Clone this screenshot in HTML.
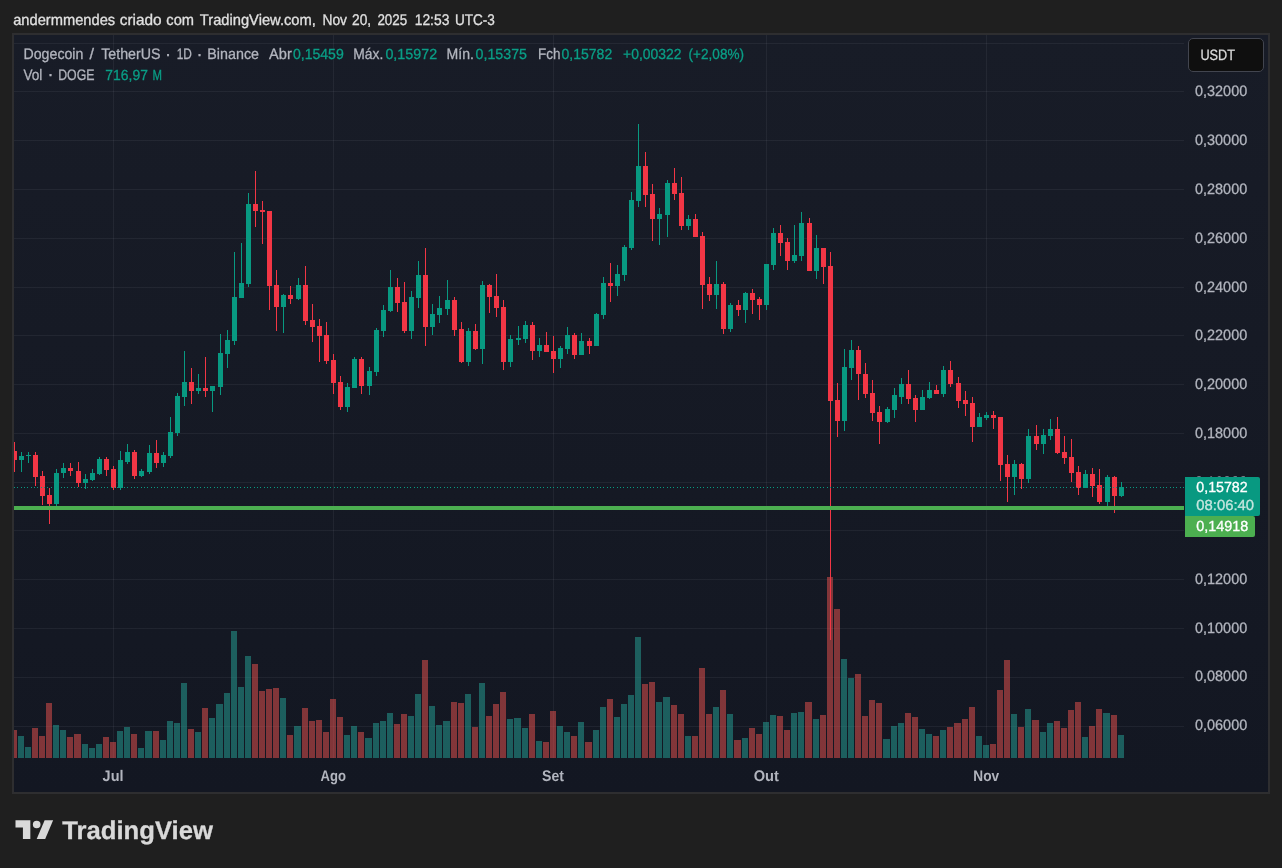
<!DOCTYPE html>
<html lang="pt"><head><meta charset="utf-8"><title>DOGEUSDT</title>
<style>
html,body{margin:0;padding:0;background:#1f1f1f;}
body{width:1282px;height:868px;position:relative;overflow:hidden;font-family:'Liberation Sans',sans-serif;}
svg text{white-space:pre;}
</style></head><body>
<svg width="1282" height="868" viewBox="0 0 1282 868" style="position:absolute;left:0;top:0">
<defs>
<linearGradient id="bgp" x1="0" y1="0" x2="0" y2="1"><stop offset="0" stop-color="#181c27"/><stop offset="1" stop-color="#131722"/></linearGradient>
<clipPath id="pane"><rect x="14" y="35" width="1170" height="723"/></clipPath>
</defs>
<rect x="12" y="33" width="1258" height="761" fill="#2e2e30"/>
<rect x="14" y="35" width="1254" height="757" fill="url(#bgp)"/>
<g shape-rendering="crispEdges" fill="rgba(240,243,250,0.06)">
<rect x="14" y="43" width="1170" height="1"/>
<rect x="14" y="91" width="1170" height="1"/>
<rect x="14" y="140" width="1170" height="1"/>
<rect x="14" y="189" width="1170" height="1"/>
<rect x="14" y="238" width="1170" height="1"/>
<rect x="14" y="287" width="1170" height="1"/>
<rect x="14" y="335" width="1170" height="1"/>
<rect x="14" y="384" width="1170" height="1"/>
<rect x="14" y="433" width="1170" height="1"/>
<rect x="14" y="482" width="1170" height="1"/>
<rect x="14" y="530" width="1170" height="1"/>
<rect x="14" y="579" width="1170" height="1"/>
<rect x="14" y="628" width="1170" height="1"/>
<rect x="14" y="677" width="1170" height="1"/>
<rect x="14" y="726" width="1170" height="1"/>
<rect x="113" y="35" width="1" height="723"/>
<rect x="333" y="35" width="1" height="723"/>
<rect x="553" y="35" width="1" height="723"/>
<rect x="766" y="35" width="1" height="723"/>
<rect x="986" y="35" width="1" height="723"/>
</g>
<g shape-rendering="crispEdges" clip-path="url(#pane)">
<rect x="11" y="730" width="6" height="28" fill="rgba(239,83,80,0.5)"/>
<rect x="18" y="736" width="6" height="22" fill="rgba(38,166,154,0.5)"/>
<rect x="25" y="747" width="6" height="11" fill="rgba(38,166,154,0.5)"/>
<rect x="32" y="728" width="6" height="30" fill="rgba(239,83,80,0.5)"/>
<rect x="39" y="736" width="6" height="22" fill="rgba(239,83,80,0.5)"/>
<rect x="46" y="703" width="6" height="55" fill="rgba(239,83,80,0.5)"/>
<rect x="53" y="725" width="6" height="33" fill="rgba(38,166,154,0.5)"/>
<rect x="60" y="730" width="6" height="28" fill="rgba(38,166,154,0.5)"/>
<rect x="67" y="737" width="6" height="21" fill="rgba(239,83,80,0.5)"/>
<rect x="74" y="734" width="7" height="24" fill="rgba(239,83,80,0.5)"/>
<rect x="82" y="744" width="6" height="14" fill="rgba(38,166,154,0.5)"/>
<rect x="89" y="748" width="6" height="10" fill="rgba(38,166,154,0.5)"/>
<rect x="96" y="744" width="6" height="14" fill="rgba(38,166,154,0.5)"/>
<rect x="103" y="737" width="6" height="21" fill="rgba(239,83,80,0.5)"/>
<rect x="110" y="742" width="6" height="16" fill="rgba(239,83,80,0.5)"/>
<rect x="117" y="731" width="6" height="27" fill="rgba(38,166,154,0.5)"/>
<rect x="124" y="727" width="6" height="31" fill="rgba(38,166,154,0.5)"/>
<rect x="131" y="734" width="6" height="24" fill="rgba(239,83,80,0.5)"/>
<rect x="138" y="748" width="6" height="10" fill="rgba(38,166,154,0.5)"/>
<rect x="145" y="731" width="7" height="27" fill="rgba(38,166,154,0.5)"/>
<rect x="153" y="731" width="6" height="27" fill="rgba(239,83,80,0.5)"/>
<rect x="160" y="740" width="6" height="18" fill="rgba(38,166,154,0.5)"/>
<rect x="167" y="721" width="6" height="37" fill="rgba(38,166,154,0.5)"/>
<rect x="174" y="723" width="6" height="35" fill="rgba(38,166,154,0.5)"/>
<rect x="181" y="683" width="6" height="75" fill="rgba(38,166,154,0.5)"/>
<rect x="188" y="729" width="6" height="29" fill="rgba(239,83,80,0.5)"/>
<rect x="195" y="732" width="6" height="26" fill="rgba(38,166,154,0.5)"/>
<rect x="202" y="708" width="6" height="50" fill="rgba(239,83,80,0.5)"/>
<rect x="209" y="718" width="6" height="40" fill="rgba(38,166,154,0.5)"/>
<rect x="216" y="704" width="7" height="54" fill="rgba(38,166,154,0.5)"/>
<rect x="224" y="693" width="6" height="65" fill="rgba(38,166,154,0.5)"/>
<rect x="231" y="631" width="6" height="127" fill="rgba(38,166,154,0.5)"/>
<rect x="238" y="687" width="6" height="71" fill="rgba(38,166,154,0.5)"/>
<rect x="245" y="656" width="6" height="102" fill="rgba(38,166,154,0.5)"/>
<rect x="252" y="664" width="6" height="94" fill="rgba(239,83,80,0.5)"/>
<rect x="259" y="691" width="6" height="67" fill="rgba(239,83,80,0.5)"/>
<rect x="266" y="689" width="6" height="69" fill="rgba(239,83,80,0.5)"/>
<rect x="273" y="688" width="6" height="70" fill="rgba(239,83,80,0.5)"/>
<rect x="280" y="698" width="6" height="60" fill="rgba(38,166,154,0.5)"/>
<rect x="287" y="735" width="6" height="23" fill="rgba(239,83,80,0.5)"/>
<rect x="294" y="726" width="7" height="32" fill="rgba(38,166,154,0.5)"/>
<rect x="302" y="708" width="6" height="50" fill="rgba(239,83,80,0.5)"/>
<rect x="309" y="721" width="6" height="37" fill="rgba(239,83,80,0.5)"/>
<rect x="316" y="720" width="6" height="38" fill="rgba(239,83,80,0.5)"/>
<rect x="323" y="732" width="6" height="26" fill="rgba(239,83,80,0.5)"/>
<rect x="330" y="699" width="6" height="59" fill="rgba(239,83,80,0.5)"/>
<rect x="337" y="717" width="6" height="41" fill="rgba(239,83,80,0.5)"/>
<rect x="344" y="735" width="6" height="23" fill="rgba(38,166,154,0.5)"/>
<rect x="351" y="726" width="6" height="32" fill="rgba(38,166,154,0.5)"/>
<rect x="358" y="732" width="6" height="26" fill="rgba(239,83,80,0.5)"/>
<rect x="365" y="738" width="7" height="20" fill="rgba(38,166,154,0.5)"/>
<rect x="373" y="723" width="6" height="35" fill="rgba(38,166,154,0.5)"/>
<rect x="380" y="721" width="6" height="37" fill="rgba(38,166,154,0.5)"/>
<rect x="387" y="713" width="6" height="45" fill="rgba(38,166,154,0.5)"/>
<rect x="394" y="724" width="6" height="34" fill="rgba(239,83,80,0.5)"/>
<rect x="401" y="714" width="6" height="44" fill="rgba(239,83,80,0.5)"/>
<rect x="408" y="716" width="6" height="42" fill="rgba(38,166,154,0.5)"/>
<rect x="415" y="694" width="6" height="64" fill="rgba(38,166,154,0.5)"/>
<rect x="422" y="660" width="6" height="98" fill="rgba(239,83,80,0.5)"/>
<rect x="429" y="706" width="6" height="52" fill="rgba(38,166,154,0.5)"/>
<rect x="436" y="725" width="6" height="33" fill="rgba(38,166,154,0.5)"/>
<rect x="443" y="721" width="7" height="37" fill="rgba(38,166,154,0.5)"/>
<rect x="451" y="702" width="6" height="56" fill="rgba(239,83,80,0.5)"/>
<rect x="458" y="703" width="6" height="55" fill="rgba(239,83,80,0.5)"/>
<rect x="465" y="694" width="6" height="64" fill="rgba(38,166,154,0.5)"/>
<rect x="472" y="727" width="6" height="31" fill="rgba(239,83,80,0.5)"/>
<rect x="479" y="683" width="6" height="75" fill="rgba(38,166,154,0.5)"/>
<rect x="486" y="716" width="6" height="42" fill="rgba(239,83,80,0.5)"/>
<rect x="493" y="704" width="6" height="54" fill="rgba(239,83,80,0.5)"/>
<rect x="500" y="692" width="6" height="66" fill="rgba(239,83,80,0.5)"/>
<rect x="507" y="719" width="6" height="39" fill="rgba(38,166,154,0.5)"/>
<rect x="514" y="718" width="7" height="40" fill="rgba(38,166,154,0.5)"/>
<rect x="522" y="728" width="6" height="30" fill="rgba(38,166,154,0.5)"/>
<rect x="529" y="714" width="6" height="44" fill="rgba(239,83,80,0.5)"/>
<rect x="536" y="741" width="6" height="17" fill="rgba(38,166,154,0.5)"/>
<rect x="543" y="742" width="6" height="16" fill="rgba(239,83,80,0.5)"/>
<rect x="550" y="711" width="6" height="47" fill="rgba(239,83,80,0.5)"/>
<rect x="557" y="726" width="6" height="32" fill="rgba(38,166,154,0.5)"/>
<rect x="564" y="732" width="6" height="26" fill="rgba(38,166,154,0.5)"/>
<rect x="571" y="736" width="6" height="22" fill="rgba(239,83,80,0.5)"/>
<rect x="578" y="722" width="6" height="36" fill="rgba(38,166,154,0.5)"/>
<rect x="585" y="742" width="7" height="16" fill="rgba(239,83,80,0.5)"/>
<rect x="593" y="730" width="6" height="28" fill="rgba(38,166,154,0.5)"/>
<rect x="600" y="707" width="6" height="51" fill="rgba(38,166,154,0.5)"/>
<rect x="607" y="699" width="6" height="59" fill="rgba(239,83,80,0.5)"/>
<rect x="614" y="717" width="6" height="41" fill="rgba(38,166,154,0.5)"/>
<rect x="621" y="704" width="6" height="54" fill="rgba(38,166,154,0.5)"/>
<rect x="628" y="695" width="6" height="63" fill="rgba(38,166,154,0.5)"/>
<rect x="635" y="637" width="6" height="121" fill="rgba(38,166,154,0.5)"/>
<rect x="642" y="684" width="6" height="74" fill="rgba(239,83,80,0.5)"/>
<rect x="649" y="682" width="6" height="76" fill="rgba(239,83,80,0.5)"/>
<rect x="656" y="702" width="6" height="56" fill="rgba(38,166,154,0.5)"/>
<rect x="663" y="697" width="7" height="61" fill="rgba(38,166,154,0.5)"/>
<rect x="671" y="705" width="6" height="53" fill="rgba(239,83,80,0.5)"/>
<rect x="678" y="714" width="6" height="44" fill="rgba(239,83,80,0.5)"/>
<rect x="685" y="736" width="6" height="22" fill="rgba(38,166,154,0.5)"/>
<rect x="692" y="736" width="6" height="22" fill="rgba(239,83,80,0.5)"/>
<rect x="699" y="668" width="6" height="90" fill="rgba(239,83,80,0.5)"/>
<rect x="706" y="714" width="6" height="44" fill="rgba(239,83,80,0.5)"/>
<rect x="713" y="707" width="6" height="51" fill="rgba(38,166,154,0.5)"/>
<rect x="720" y="690" width="6" height="68" fill="rgba(239,83,80,0.5)"/>
<rect x="727" y="714" width="6" height="44" fill="rgba(38,166,154,0.5)"/>
<rect x="734" y="740" width="7" height="18" fill="rgba(239,83,80,0.5)"/>
<rect x="742" y="738" width="6" height="20" fill="rgba(38,166,154,0.5)"/>
<rect x="749" y="728" width="6" height="30" fill="rgba(239,83,80,0.5)"/>
<rect x="756" y="734" width="6" height="24" fill="rgba(239,83,80,0.5)"/>
<rect x="763" y="722" width="6" height="36" fill="rgba(38,166,154,0.5)"/>
<rect x="770" y="715" width="6" height="43" fill="rgba(38,166,154,0.5)"/>
<rect x="777" y="716" width="6" height="42" fill="rgba(239,83,80,0.5)"/>
<rect x="784" y="730" width="6" height="28" fill="rgba(239,83,80,0.5)"/>
<rect x="791" y="713" width="6" height="45" fill="rgba(38,166,154,0.5)"/>
<rect x="798" y="712" width="6" height="46" fill="rgba(38,166,154,0.5)"/>
<rect x="805" y="702" width="7" height="56" fill="rgba(239,83,80,0.5)"/>
<rect x="813" y="719" width="6" height="39" fill="rgba(38,166,154,0.5)"/>
<rect x="820" y="715" width="6" height="43" fill="rgba(239,83,80,0.5)"/>
<rect x="827" y="577" width="6" height="181" fill="rgba(239,83,80,0.5)"/>
<rect x="834" y="609" width="6" height="149" fill="rgba(239,83,80,0.5)"/>
<rect x="841" y="659" width="6" height="99" fill="rgba(38,166,154,0.5)"/>
<rect x="848" y="678" width="6" height="80" fill="rgba(38,166,154,0.5)"/>
<rect x="855" y="674" width="6" height="84" fill="rgba(239,83,80,0.5)"/>
<rect x="862" y="716" width="6" height="42" fill="rgba(239,83,80,0.5)"/>
<rect x="869" y="700" width="6" height="58" fill="rgba(239,83,80,0.5)"/>
<rect x="876" y="703" width="6" height="55" fill="rgba(239,83,80,0.5)"/>
<rect x="883" y="739" width="7" height="19" fill="rgba(38,166,154,0.5)"/>
<rect x="891" y="726" width="6" height="32" fill="rgba(38,166,154,0.5)"/>
<rect x="898" y="723" width="6" height="35" fill="rgba(38,166,154,0.5)"/>
<rect x="905" y="713" width="6" height="45" fill="rgba(239,83,80,0.5)"/>
<rect x="912" y="717" width="6" height="41" fill="rgba(239,83,80,0.5)"/>
<rect x="919" y="729" width="6" height="29" fill="rgba(38,166,154,0.5)"/>
<rect x="926" y="734" width="6" height="24" fill="rgba(38,166,154,0.5)"/>
<rect x="933" y="736" width="6" height="22" fill="rgba(239,83,80,0.5)"/>
<rect x="940" y="730" width="6" height="28" fill="rgba(38,166,154,0.5)"/>
<rect x="947" y="727" width="6" height="31" fill="rgba(239,83,80,0.5)"/>
<rect x="954" y="723" width="7" height="35" fill="rgba(239,83,80,0.5)"/>
<rect x="962" y="719" width="6" height="39" fill="rgba(239,83,80,0.5)"/>
<rect x="969" y="707" width="6" height="51" fill="rgba(239,83,80,0.5)"/>
<rect x="976" y="736" width="6" height="22" fill="rgba(38,166,154,0.5)"/>
<rect x="983" y="745" width="6" height="13" fill="rgba(38,166,154,0.5)"/>
<rect x="990" y="744" width="6" height="14" fill="rgba(239,83,80,0.5)"/>
<rect x="997" y="690" width="6" height="68" fill="rgba(239,83,80,0.5)"/>
<rect x="1004" y="660" width="6" height="98" fill="rgba(239,83,80,0.5)"/>
<rect x="1011" y="714" width="6" height="44" fill="rgba(38,166,154,0.5)"/>
<rect x="1018" y="727" width="6" height="31" fill="rgba(239,83,80,0.5)"/>
<rect x="1025" y="709" width="6" height="49" fill="rgba(38,166,154,0.5)"/>
<rect x="1032" y="720" width="7" height="38" fill="rgba(239,83,80,0.5)"/>
<rect x="1040" y="732" width="6" height="26" fill="rgba(38,166,154,0.5)"/>
<rect x="1047" y="723" width="6" height="35" fill="rgba(38,166,154,0.5)"/>
<rect x="1054" y="721" width="6" height="37" fill="rgba(239,83,80,0.5)"/>
<rect x="1061" y="728" width="6" height="30" fill="rgba(239,83,80,0.5)"/>
<rect x="1068" y="710" width="6" height="48" fill="rgba(239,83,80,0.5)"/>
<rect x="1075" y="702" width="6" height="56" fill="rgba(239,83,80,0.5)"/>
<rect x="1082" y="737" width="6" height="21" fill="rgba(38,166,154,0.5)"/>
<rect x="1089" y="726" width="6" height="32" fill="rgba(239,83,80,0.5)"/>
<rect x="1096" y="709" width="6" height="49" fill="rgba(239,83,80,0.5)"/>
<rect x="1103" y="713" width="7" height="45" fill="rgba(38,166,154,0.5)"/>
<rect x="1111" y="715" width="6" height="43" fill="rgba(239,83,80,0.5)"/>
<rect x="1118" y="735" width="6" height="23" fill="rgba(38,166,154,0.5)"/>
</g>
<g shape-rendering="crispEdges" clip-path="url(#pane)">
<rect x="14" y="442" width="1" height="30" fill="#f23645"/>
<rect x="12" y="451" width="5" height="9" fill="#f23645"/>
<rect x="21" y="452" width="1" height="20" fill="#089981"/>
<rect x="19" y="456" width="5" height="4" fill="#089981"/>
<rect x="28" y="452" width="1" height="11" fill="#089981"/>
<rect x="26" y="455" width="5" height="1" fill="#089981"/>
<rect x="35" y="452" width="1" height="34" fill="#f23645"/>
<rect x="33" y="455" width="5" height="22" fill="#f23645"/>
<rect x="42" y="471" width="1" height="34" fill="#f23645"/>
<rect x="40" y="476" width="5" height="20" fill="#f23645"/>
<rect x="49" y="488" width="1" height="36" fill="#f23645"/>
<rect x="47" y="495" width="5" height="9" fill="#f23645"/>
<rect x="56" y="469" width="1" height="37" fill="#089981"/>
<rect x="54" y="473" width="5" height="31" fill="#089981"/>
<rect x="63" y="463" width="1" height="15" fill="#089981"/>
<rect x="61" y="468" width="5" height="5" fill="#089981"/>
<rect x="70" y="463" width="1" height="13" fill="#f23645"/>
<rect x="68" y="468" width="5" height="3" fill="#f23645"/>
<rect x="78" y="462" width="1" height="25" fill="#f23645"/>
<rect x="76" y="471" width="5" height="12" fill="#f23645"/>
<rect x="85" y="474" width="1" height="15" fill="#089981"/>
<rect x="83" y="479" width="5" height="4" fill="#089981"/>
<rect x="92" y="469" width="1" height="12" fill="#089981"/>
<rect x="90" y="473" width="5" height="7" fill="#089981"/>
<rect x="99" y="457" width="1" height="18" fill="#089981"/>
<rect x="97" y="459" width="5" height="15" fill="#089981"/>
<rect x="106" y="457" width="1" height="19" fill="#f23645"/>
<rect x="104" y="459" width="5" height="11" fill="#f23645"/>
<rect x="113" y="466" width="1" height="24" fill="#f23645"/>
<rect x="111" y="469" width="5" height="19" fill="#f23645"/>
<rect x="120" y="451" width="1" height="39" fill="#089981"/>
<rect x="118" y="460" width="5" height="28" fill="#089981"/>
<rect x="127" y="444" width="1" height="20" fill="#089981"/>
<rect x="125" y="452" width="5" height="10" fill="#089981"/>
<rect x="134" y="450" width="1" height="29" fill="#f23645"/>
<rect x="132" y="452" width="5" height="24" fill="#f23645"/>
<rect x="141" y="469" width="1" height="8" fill="#089981"/>
<rect x="139" y="471" width="5" height="5" fill="#089981"/>
<rect x="149" y="445" width="1" height="29" fill="#089981"/>
<rect x="147" y="453" width="5" height="19" fill="#089981"/>
<rect x="156" y="440" width="1" height="28" fill="#f23645"/>
<rect x="154" y="453" width="5" height="10" fill="#f23645"/>
<rect x="163" y="452" width="1" height="15" fill="#089981"/>
<rect x="161" y="455" width="5" height="8" fill="#089981"/>
<rect x="170" y="417" width="1" height="41" fill="#089981"/>
<rect x="168" y="432" width="5" height="24" fill="#089981"/>
<rect x="177" y="393" width="1" height="43" fill="#089981"/>
<rect x="175" y="396" width="5" height="37" fill="#089981"/>
<rect x="184" y="351" width="1" height="55" fill="#089981"/>
<rect x="182" y="382" width="5" height="15" fill="#089981"/>
<rect x="191" y="368" width="1" height="36" fill="#f23645"/>
<rect x="189" y="382" width="5" height="9" fill="#f23645"/>
<rect x="198" y="374" width="1" height="20" fill="#089981"/>
<rect x="196" y="388" width="5" height="3" fill="#089981"/>
<rect x="205" y="357" width="1" height="40" fill="#f23645"/>
<rect x="203" y="388" width="5" height="3" fill="#f23645"/>
<rect x="212" y="386" width="1" height="26" fill="#089981"/>
<rect x="210" y="386" width="5" height="5" fill="#089981"/>
<rect x="220" y="334" width="1" height="61" fill="#089981"/>
<rect x="218" y="353" width="5" height="34" fill="#089981"/>
<rect x="227" y="330" width="1" height="38" fill="#089981"/>
<rect x="225" y="340" width="5" height="14" fill="#089981"/>
<rect x="234" y="252" width="1" height="93" fill="#089981"/>
<rect x="232" y="297" width="5" height="44" fill="#089981"/>
<rect x="241" y="243" width="1" height="55" fill="#089981"/>
<rect x="239" y="283" width="5" height="15" fill="#089981"/>
<rect x="248" y="193" width="1" height="94" fill="#089981"/>
<rect x="246" y="204" width="5" height="80" fill="#089981"/>
<rect x="255" y="171" width="1" height="56" fill="#f23645"/>
<rect x="253" y="204" width="5" height="7" fill="#f23645"/>
<rect x="262" y="201" width="1" height="43" fill="#f23645"/>
<rect x="260" y="210" width="5" height="2" fill="#f23645"/>
<rect x="269" y="211" width="1" height="99" fill="#f23645"/>
<rect x="267" y="211" width="5" height="75" fill="#f23645"/>
<rect x="276" y="270" width="1" height="61" fill="#f23645"/>
<rect x="274" y="285" width="5" height="22" fill="#f23645"/>
<rect x="283" y="294" width="1" height="39" fill="#089981"/>
<rect x="281" y="295" width="5" height="12" fill="#089981"/>
<rect x="290" y="286" width="1" height="18" fill="#f23645"/>
<rect x="288" y="295" width="5" height="4" fill="#f23645"/>
<rect x="298" y="278" width="1" height="22" fill="#089981"/>
<rect x="296" y="285" width="5" height="14" fill="#089981"/>
<rect x="305" y="266" width="1" height="59" fill="#f23645"/>
<rect x="303" y="285" width="5" height="36" fill="#f23645"/>
<rect x="312" y="304" width="1" height="38" fill="#f23645"/>
<rect x="310" y="320" width="5" height="7" fill="#f23645"/>
<rect x="319" y="319" width="1" height="43" fill="#f23645"/>
<rect x="317" y="326" width="5" height="10" fill="#f23645"/>
<rect x="326" y="322" width="1" height="42" fill="#f23645"/>
<rect x="324" y="335" width="5" height="26" fill="#f23645"/>
<rect x="333" y="354" width="1" height="40" fill="#f23645"/>
<rect x="331" y="360" width="5" height="23" fill="#f23645"/>
<rect x="340" y="376" width="1" height="34" fill="#f23645"/>
<rect x="338" y="382" width="5" height="25" fill="#f23645"/>
<rect x="347" y="383" width="1" height="29" fill="#089981"/>
<rect x="345" y="387" width="5" height="20" fill="#089981"/>
<rect x="354" y="357" width="1" height="31" fill="#089981"/>
<rect x="352" y="359" width="5" height="29" fill="#089981"/>
<rect x="361" y="357" width="1" height="37" fill="#f23645"/>
<rect x="359" y="359" width="5" height="27" fill="#f23645"/>
<rect x="369" y="367" width="1" height="28" fill="#089981"/>
<rect x="367" y="371" width="5" height="15" fill="#089981"/>
<rect x="376" y="328" width="1" height="48" fill="#089981"/>
<rect x="374" y="330" width="5" height="42" fill="#089981"/>
<rect x="383" y="305" width="1" height="32" fill="#089981"/>
<rect x="381" y="310" width="5" height="21" fill="#089981"/>
<rect x="390" y="270" width="1" height="42" fill="#089981"/>
<rect x="388" y="287" width="5" height="24" fill="#089981"/>
<rect x="397" y="278" width="1" height="34" fill="#f23645"/>
<rect x="395" y="287" width="5" height="16" fill="#f23645"/>
<rect x="404" y="282" width="1" height="51" fill="#f23645"/>
<rect x="402" y="302" width="5" height="29" fill="#f23645"/>
<rect x="411" y="291" width="1" height="48" fill="#089981"/>
<rect x="409" y="297" width="5" height="34" fill="#089981"/>
<rect x="418" y="261" width="1" height="47" fill="#089981"/>
<rect x="416" y="275" width="5" height="23" fill="#089981"/>
<rect x="425" y="248" width="1" height="98" fill="#f23645"/>
<rect x="423" y="275" width="5" height="52" fill="#f23645"/>
<rect x="432" y="304" width="1" height="31" fill="#089981"/>
<rect x="430" y="314" width="5" height="13" fill="#089981"/>
<rect x="439" y="296" width="1" height="27" fill="#089981"/>
<rect x="437" y="308" width="5" height="7" fill="#089981"/>
<rect x="447" y="280" width="1" height="35" fill="#089981"/>
<rect x="445" y="300" width="5" height="9" fill="#089981"/>
<rect x="454" y="297" width="1" height="39" fill="#f23645"/>
<rect x="452" y="300" width="5" height="30" fill="#f23645"/>
<rect x="461" y="322" width="1" height="41" fill="#f23645"/>
<rect x="459" y="329" width="5" height="33" fill="#f23645"/>
<rect x="468" y="328" width="1" height="38" fill="#089981"/>
<rect x="466" y="331" width="5" height="31" fill="#089981"/>
<rect x="475" y="324" width="1" height="26" fill="#f23645"/>
<rect x="473" y="331" width="5" height="18" fill="#f23645"/>
<rect x="482" y="281" width="1" height="83" fill="#089981"/>
<rect x="480" y="285" width="5" height="64" fill="#089981"/>
<rect x="489" y="284" width="1" height="29" fill="#f23645"/>
<rect x="487" y="285" width="5" height="12" fill="#f23645"/>
<rect x="496" y="274" width="1" height="43" fill="#f23645"/>
<rect x="494" y="296" width="5" height="12" fill="#f23645"/>
<rect x="503" y="300" width="1" height="70" fill="#f23645"/>
<rect x="501" y="307" width="5" height="55" fill="#f23645"/>
<rect x="510" y="335" width="1" height="32" fill="#089981"/>
<rect x="508" y="339" width="5" height="23" fill="#089981"/>
<rect x="518" y="326" width="1" height="19" fill="#089981"/>
<rect x="516" y="338" width="5" height="2" fill="#089981"/>
<rect x="525" y="321" width="1" height="22" fill="#089981"/>
<rect x="523" y="325" width="5" height="14" fill="#089981"/>
<rect x="532" y="322" width="1" height="38" fill="#f23645"/>
<rect x="530" y="325" width="5" height="26" fill="#f23645"/>
<rect x="539" y="338" width="1" height="19" fill="#089981"/>
<rect x="537" y="345" width="5" height="6" fill="#089981"/>
<rect x="546" y="332" width="1" height="20" fill="#f23645"/>
<rect x="544" y="345" width="5" height="7" fill="#f23645"/>
<rect x="553" y="336" width="1" height="37" fill="#f23645"/>
<rect x="551" y="351" width="5" height="8" fill="#f23645"/>
<rect x="560" y="346" width="1" height="22" fill="#089981"/>
<rect x="558" y="348" width="5" height="11" fill="#089981"/>
<rect x="567" y="327" width="1" height="27" fill="#089981"/>
<rect x="565" y="335" width="5" height="14" fill="#089981"/>
<rect x="574" y="333" width="1" height="26" fill="#f23645"/>
<rect x="572" y="335" width="5" height="20" fill="#f23645"/>
<rect x="581" y="333" width="1" height="22" fill="#089981"/>
<rect x="579" y="341" width="5" height="14" fill="#089981"/>
<rect x="589" y="338" width="1" height="16" fill="#f23645"/>
<rect x="587" y="341" width="5" height="5" fill="#f23645"/>
<rect x="596" y="313" width="1" height="33" fill="#089981"/>
<rect x="594" y="314" width="5" height="32" fill="#089981"/>
<rect x="603" y="277" width="1" height="42" fill="#089981"/>
<rect x="601" y="283" width="5" height="32" fill="#089981"/>
<rect x="610" y="263" width="1" height="39" fill="#f23645"/>
<rect x="608" y="283" width="5" height="3" fill="#f23645"/>
<rect x="617" y="265" width="1" height="31" fill="#089981"/>
<rect x="615" y="274" width="5" height="12" fill="#089981"/>
<rect x="624" y="245" width="1" height="36" fill="#089981"/>
<rect x="622" y="247" width="5" height="28" fill="#089981"/>
<rect x="631" y="192" width="1" height="58" fill="#089981"/>
<rect x="629" y="200" width="5" height="48" fill="#089981"/>
<rect x="638" y="124" width="1" height="83" fill="#089981"/>
<rect x="636" y="166" width="5" height="35" fill="#089981"/>
<rect x="645" y="152" width="1" height="55" fill="#f23645"/>
<rect x="643" y="166" width="5" height="29" fill="#f23645"/>
<rect x="652" y="184" width="1" height="57" fill="#f23645"/>
<rect x="650" y="194" width="5" height="25" fill="#f23645"/>
<rect x="659" y="208" width="1" height="37" fill="#089981"/>
<rect x="657" y="214" width="5" height="5" fill="#089981"/>
<rect x="667" y="180" width="1" height="57" fill="#089981"/>
<rect x="665" y="183" width="5" height="32" fill="#089981"/>
<rect x="674" y="168" width="1" height="32" fill="#f23645"/>
<rect x="672" y="183" width="5" height="11" fill="#f23645"/>
<rect x="681" y="177" width="1" height="53" fill="#f23645"/>
<rect x="679" y="193" width="5" height="33" fill="#f23645"/>
<rect x="688" y="215" width="1" height="15" fill="#089981"/>
<rect x="686" y="219" width="5" height="7" fill="#089981"/>
<rect x="695" y="214" width="1" height="23" fill="#f23645"/>
<rect x="693" y="219" width="5" height="18" fill="#f23645"/>
<rect x="702" y="232" width="1" height="77" fill="#f23645"/>
<rect x="700" y="236" width="5" height="49" fill="#f23645"/>
<rect x="709" y="277" width="1" height="24" fill="#f23645"/>
<rect x="707" y="284" width="5" height="11" fill="#f23645"/>
<rect x="716" y="261" width="1" height="48" fill="#089981"/>
<rect x="714" y="284" width="5" height="11" fill="#089981"/>
<rect x="723" y="282" width="1" height="52" fill="#f23645"/>
<rect x="721" y="284" width="5" height="45" fill="#f23645"/>
<rect x="730" y="303" width="1" height="29" fill="#089981"/>
<rect x="728" y="305" width="5" height="24" fill="#089981"/>
<rect x="738" y="300" width="1" height="16" fill="#f23645"/>
<rect x="736" y="305" width="5" height="5" fill="#f23645"/>
<rect x="745" y="292" width="1" height="31" fill="#089981"/>
<rect x="743" y="293" width="5" height="17" fill="#089981"/>
<rect x="752" y="289" width="1" height="25" fill="#f23645"/>
<rect x="750" y="293" width="5" height="7" fill="#f23645"/>
<rect x="759" y="297" width="1" height="23" fill="#f23645"/>
<rect x="757" y="299" width="5" height="6" fill="#f23645"/>
<rect x="766" y="264" width="1" height="46" fill="#089981"/>
<rect x="764" y="264" width="5" height="41" fill="#089981"/>
<rect x="773" y="228" width="1" height="42" fill="#089981"/>
<rect x="771" y="233" width="5" height="32" fill="#089981"/>
<rect x="780" y="225" width="1" height="31" fill="#f23645"/>
<rect x="778" y="233" width="5" height="10" fill="#f23645"/>
<rect x="787" y="238" width="1" height="32" fill="#f23645"/>
<rect x="785" y="242" width="5" height="19" fill="#f23645"/>
<rect x="794" y="225" width="1" height="38" fill="#089981"/>
<rect x="792" y="255" width="5" height="6" fill="#089981"/>
<rect x="801" y="212" width="1" height="49" fill="#089981"/>
<rect x="799" y="223" width="5" height="33" fill="#089981"/>
<rect x="809" y="218" width="1" height="53" fill="#f23645"/>
<rect x="807" y="223" width="5" height="48" fill="#f23645"/>
<rect x="816" y="235" width="1" height="44" fill="#089981"/>
<rect x="814" y="248" width="5" height="23" fill="#089981"/>
<rect x="823" y="248" width="1" height="36" fill="#f23645"/>
<rect x="821" y="248" width="5" height="19" fill="#f23645"/>
<rect x="830" y="252" width="1" height="388" fill="#f23645"/>
<rect x="828" y="266" width="5" height="135" fill="#f23645"/>
<rect x="837" y="383" width="1" height="54" fill="#f23645"/>
<rect x="835" y="400" width="5" height="21" fill="#f23645"/>
<rect x="844" y="349" width="1" height="82" fill="#089981"/>
<rect x="842" y="367" width="5" height="54" fill="#089981"/>
<rect x="851" y="340" width="1" height="40" fill="#089981"/>
<rect x="849" y="350" width="5" height="18" fill="#089981"/>
<rect x="858" y="346" width="1" height="54" fill="#f23645"/>
<rect x="856" y="350" width="5" height="24" fill="#f23645"/>
<rect x="865" y="363" width="1" height="35" fill="#f23645"/>
<rect x="863" y="374" width="5" height="20" fill="#f23645"/>
<rect x="872" y="380" width="1" height="41" fill="#f23645"/>
<rect x="870" y="393" width="5" height="20" fill="#f23645"/>
<rect x="879" y="406" width="1" height="38" fill="#f23645"/>
<rect x="877" y="412" width="5" height="10" fill="#f23645"/>
<rect x="887" y="407" width="1" height="16" fill="#089981"/>
<rect x="885" y="409" width="5" height="13" fill="#089981"/>
<rect x="894" y="388" width="1" height="30" fill="#089981"/>
<rect x="892" y="395" width="5" height="15" fill="#089981"/>
<rect x="901" y="378" width="1" height="26" fill="#089981"/>
<rect x="899" y="384" width="5" height="13" fill="#089981"/>
<rect x="908" y="370" width="1" height="34" fill="#f23645"/>
<rect x="906" y="384" width="5" height="15" fill="#f23645"/>
<rect x="915" y="395" width="1" height="27" fill="#f23645"/>
<rect x="913" y="398" width="5" height="12" fill="#f23645"/>
<rect x="922" y="390" width="1" height="20" fill="#089981"/>
<rect x="920" y="397" width="5" height="13" fill="#089981"/>
<rect x="929" y="382" width="1" height="17" fill="#089981"/>
<rect x="927" y="390" width="5" height="8" fill="#089981"/>
<rect x="936" y="385" width="1" height="9" fill="#f23645"/>
<rect x="934" y="390" width="5" height="4" fill="#f23645"/>
<rect x="943" y="366" width="1" height="31" fill="#089981"/>
<rect x="941" y="370" width="5" height="24" fill="#089981"/>
<rect x="950" y="361" width="1" height="26" fill="#f23645"/>
<rect x="948" y="370" width="5" height="14" fill="#f23645"/>
<rect x="958" y="377" width="1" height="31" fill="#f23645"/>
<rect x="956" y="383" width="5" height="18" fill="#f23645"/>
<rect x="965" y="391" width="1" height="25" fill="#f23645"/>
<rect x="963" y="400" width="5" height="4" fill="#f23645"/>
<rect x="972" y="397" width="1" height="45" fill="#f23645"/>
<rect x="970" y="403" width="5" height="24" fill="#f23645"/>
<rect x="979" y="413" width="1" height="14" fill="#089981"/>
<rect x="977" y="417" width="5" height="10" fill="#089981"/>
<rect x="986" y="412" width="1" height="8" fill="#089981"/>
<rect x="984" y="415" width="5" height="3" fill="#089981"/>
<rect x="993" y="411" width="1" height="18" fill="#f23645"/>
<rect x="991" y="415" width="5" height="3" fill="#f23645"/>
<rect x="1000" y="417" width="1" height="64" fill="#f23645"/>
<rect x="998" y="417" width="5" height="48" fill="#f23645"/>
<rect x="1007" y="455" width="1" height="47" fill="#f23645"/>
<rect x="1005" y="464" width="5" height="13" fill="#f23645"/>
<rect x="1014" y="460" width="1" height="35" fill="#089981"/>
<rect x="1012" y="464" width="5" height="13" fill="#089981"/>
<rect x="1021" y="463" width="1" height="26" fill="#f23645"/>
<rect x="1019" y="464" width="5" height="15" fill="#f23645"/>
<rect x="1028" y="429" width="1" height="54" fill="#089981"/>
<rect x="1026" y="436" width="5" height="43" fill="#089981"/>
<rect x="1036" y="425" width="1" height="25" fill="#f23645"/>
<rect x="1034" y="436" width="5" height="8" fill="#f23645"/>
<rect x="1043" y="429" width="1" height="25" fill="#089981"/>
<rect x="1041" y="435" width="5" height="9" fill="#089981"/>
<rect x="1050" y="419" width="1" height="21" fill="#089981"/>
<rect x="1048" y="429" width="5" height="7" fill="#089981"/>
<rect x="1057" y="417" width="1" height="37" fill="#f23645"/>
<rect x="1055" y="429" width="5" height="24" fill="#f23645"/>
<rect x="1064" y="436" width="1" height="28" fill="#f23645"/>
<rect x="1062" y="452" width="5" height="6" fill="#f23645"/>
<rect x="1071" y="439" width="1" height="43" fill="#f23645"/>
<rect x="1069" y="457" width="5" height="16" fill="#f23645"/>
<rect x="1078" y="466" width="1" height="29" fill="#f23645"/>
<rect x="1076" y="472" width="5" height="16" fill="#f23645"/>
<rect x="1085" y="470" width="1" height="18" fill="#089981"/>
<rect x="1083" y="474" width="5" height="14" fill="#089981"/>
<rect x="1092" y="468" width="1" height="29" fill="#f23645"/>
<rect x="1090" y="474" width="5" height="12" fill="#f23645"/>
<rect x="1099" y="469" width="1" height="35" fill="#f23645"/>
<rect x="1097" y="485" width="5" height="17" fill="#f23645"/>
<rect x="1107" y="475" width="1" height="32" fill="#089981"/>
<rect x="1105" y="477" width="5" height="25" fill="#089981"/>
<rect x="1114" y="476" width="1" height="37" fill="#f23645"/>
<rect x="1112" y="477" width="5" height="19" fill="#f23645"/>
<rect x="1121" y="482" width="1" height="15" fill="#089981"/>
<rect x="1119" y="487" width="5" height="9" fill="#089981"/>
</g>
<line x1="14" y1="487.5" x2="1184" y2="487.5" stroke="#089981" stroke-width="1" stroke-dasharray="1 2.33" shape-rendering="crispEdges"/>
<rect x="14" y="506" width="1170" height="4" fill="#4caf50" shape-rendering="crispEdges"/>
</svg>
<svg width="1282" height="868" viewBox="0 0 1282 868" style="position:absolute;left:0;top:0;will-change:transform" text-rendering="geometricPrecision">
<text x="1195.0" y="95.9" font-size="15" fill="#b2b5be" stroke="#b2b5be" stroke-width="0.3" font-weight="normal" text-anchor="start" textLength="52.2" lengthAdjust="spacingAndGlyphs" font-family="'Liberation Sans', sans-serif">0,32000</text>
<text x="1195.0" y="144.9" font-size="15" fill="#b2b5be" stroke="#b2b5be" stroke-width="0.3" font-weight="normal" text-anchor="start" textLength="52.2" lengthAdjust="spacingAndGlyphs" font-family="'Liberation Sans', sans-serif">0,30000</text>
<text x="1195.0" y="193.8" font-size="15" fill="#b2b5be" stroke="#b2b5be" stroke-width="0.3" font-weight="normal" text-anchor="start" textLength="52.2" lengthAdjust="spacingAndGlyphs" font-family="'Liberation Sans', sans-serif">0,28000</text>
<text x="1195.0" y="242.8" font-size="15" fill="#b2b5be" stroke="#b2b5be" stroke-width="0.3" font-weight="normal" text-anchor="start" textLength="52.2" lengthAdjust="spacingAndGlyphs" font-family="'Liberation Sans', sans-serif">0,26000</text>
<text x="1195.0" y="291.7" font-size="15" fill="#b2b5be" stroke="#b2b5be" stroke-width="0.3" font-weight="normal" text-anchor="start" textLength="52.2" lengthAdjust="spacingAndGlyphs" font-family="'Liberation Sans', sans-serif">0,24000</text>
<text x="1195.0" y="339.7" font-size="15" fill="#b2b5be" stroke="#b2b5be" stroke-width="0.3" font-weight="normal" text-anchor="start" textLength="52.2" lengthAdjust="spacingAndGlyphs" font-family="'Liberation Sans', sans-serif">0,22000</text>
<text x="1195.0" y="388.7" font-size="15" fill="#b2b5be" stroke="#b2b5be" stroke-width="0.3" font-weight="normal" text-anchor="start" textLength="52.2" lengthAdjust="spacingAndGlyphs" font-family="'Liberation Sans', sans-serif">0,20000</text>
<text x="1195.0" y="437.6" font-size="15" fill="#b2b5be" stroke="#b2b5be" stroke-width="0.3" font-weight="normal" text-anchor="start" textLength="52.2" lengthAdjust="spacingAndGlyphs" font-family="'Liberation Sans', sans-serif">0,18000</text>
<text x="1195.0" y="486.6" font-size="15" fill="#b2b5be" stroke="#b2b5be" stroke-width="0.3" font-weight="normal" text-anchor="start" textLength="52.2" lengthAdjust="spacingAndGlyphs" font-family="'Liberation Sans', sans-serif">0,16000</text>
<text x="1195.0" y="534.6" font-size="15" fill="#b2b5be" stroke="#b2b5be" stroke-width="0.3" font-weight="normal" text-anchor="start" textLength="52.2" lengthAdjust="spacingAndGlyphs" font-family="'Liberation Sans', sans-serif">0,14000</text>
<text x="1195.0" y="583.5" font-size="15" fill="#b2b5be" stroke="#b2b5be" stroke-width="0.3" font-weight="normal" text-anchor="start" textLength="52.2" lengthAdjust="spacingAndGlyphs" font-family="'Liberation Sans', sans-serif">0,12000</text>
<text x="1195.0" y="632.5" font-size="15" fill="#b2b5be" stroke="#b2b5be" stroke-width="0.3" font-weight="normal" text-anchor="start" textLength="52.2" lengthAdjust="spacingAndGlyphs" font-family="'Liberation Sans', sans-serif">0,10000</text>
<text x="1195.0" y="681.4" font-size="15" fill="#b2b5be" stroke="#b2b5be" stroke-width="0.3" font-weight="normal" text-anchor="start" textLength="52.2" lengthAdjust="spacingAndGlyphs" font-family="'Liberation Sans', sans-serif">0,08000</text>
<text x="1195.0" y="730.4" font-size="15" fill="#b2b5be" stroke="#b2b5be" stroke-width="0.3" font-weight="normal" text-anchor="start" textLength="52.2" lengthAdjust="spacingAndGlyphs" font-family="'Liberation Sans', sans-serif">0,06000</text>
<text x="102.6" y="780.9" font-size="15.4" fill="#b2b5be" font-weight="bold" text-anchor="start" textLength="20.9" lengthAdjust="spacingAndGlyphs" font-family="'Liberation Sans', sans-serif">Jul</text>
<text x="320.6" y="780.9" font-size="15.4" fill="#b2b5be" font-weight="bold" text-anchor="start" textLength="25.4" lengthAdjust="spacingAndGlyphs" font-family="'Liberation Sans', sans-serif">Ago</text>
<text x="542.1" y="780.9" font-size="15.4" fill="#b2b5be" font-weight="bold" text-anchor="start" textLength="21.9" lengthAdjust="spacingAndGlyphs" font-family="'Liberation Sans', sans-serif">Set</text>
<text x="753.7" y="780.9" font-size="15.4" fill="#b2b5be" font-weight="bold" text-anchor="start" textLength="25.2" lengthAdjust="spacingAndGlyphs" font-family="'Liberation Sans', sans-serif">Out</text>
<text x="973.3" y="780.9" font-size="15.4" fill="#b2b5be" font-weight="bold" text-anchor="start" textLength="25.8" lengthAdjust="spacingAndGlyphs" font-family="'Liberation Sans', sans-serif">Nov</text>
<rect x="1188.5" y="38.5" width="75" height="33" rx="4.5" fill="#0f0f0f" stroke="#42454f" stroke-width="1"/>
<text x="1200.4" y="59.7" font-size="15" fill="#dbdbdb" stroke="#dbdbdb" stroke-width="0.3" font-weight="normal" text-anchor="start" textLength="34.6" lengthAdjust="spacingAndGlyphs" font-family="'Liberation Sans', sans-serif">USDT</text>
<path d="M1185 477h73a2 2 0 0 1 2 2v35a2 2 0 0 1-2 2h-73z" fill="#089981"/>
<path d="M1185 516h68a2 2 0 0 1 2 2v17a2 2 0 0 1-2 2h-68z" fill="#4caf50"/>
<text x="1196.3" y="491.8" font-size="14.6" fill="#ffffff" stroke="#ffffff" stroke-width="0.3" font-weight="normal" text-anchor="start" textLength="51.4" lengthAdjust="spacingAndGlyphs" font-family="'Liberation Sans', sans-serif">0,15782</text>
<text x="1196.3" y="510.0" font-size="14.6" fill="#c5e6df" stroke="#c5e6df" stroke-width="0.3" font-weight="normal" text-anchor="start" textLength="57.7" lengthAdjust="spacingAndGlyphs" font-family="'Liberation Sans', sans-serif">08:06:40</text>
<text x="1196.3" y="530.5" font-size="14.6" fill="#ffffff" stroke="#ffffff" stroke-width="0.3" font-weight="normal" text-anchor="start" textLength="52.1" lengthAdjust="spacingAndGlyphs" font-family="'Liberation Sans', sans-serif">0,14918</text>
<text x="13.2" y="24.5" font-size="15.4" fill="#e0e0e0" stroke="#e0e0e0" stroke-width="0.3" font-weight="normal" text-anchor="start" textLength="102.0" lengthAdjust="spacingAndGlyphs" font-family="'Liberation Sans', sans-serif">andermmendes</text>
<text x="119.7" y="24.5" font-size="15.4" fill="#e0e0e0" stroke="#e0e0e0" stroke-width="0.3" font-weight="normal" text-anchor="start" textLength="42.0" lengthAdjust="spacingAndGlyphs" font-family="'Liberation Sans', sans-serif">criado</text>
<text x="166.3" y="24.5" font-size="15.4" fill="#e0e0e0" stroke="#e0e0e0" stroke-width="0.3" font-weight="normal" text-anchor="start" textLength="27.7" lengthAdjust="spacingAndGlyphs" font-family="'Liberation Sans', sans-serif">com</text>
<text x="199.8" y="24.5" font-size="15.4" fill="#e0e0e0" stroke="#e0e0e0" stroke-width="0.3" font-weight="normal" text-anchor="start" textLength="116.1" lengthAdjust="spacingAndGlyphs" font-family="'Liberation Sans', sans-serif">TradingView.com,</text>
<text x="322.4" y="24.5" font-size="15.4" fill="#e0e0e0" stroke="#e0e0e0" stroke-width="0.3" font-weight="normal" text-anchor="start" textLength="24.6" lengthAdjust="spacingAndGlyphs" font-family="'Liberation Sans', sans-serif">Nov</text>
<text x="352.0" y="24.5" font-size="15.4" fill="#e0e0e0" stroke="#e0e0e0" stroke-width="0.3" font-weight="normal" text-anchor="start" textLength="19.1" lengthAdjust="spacingAndGlyphs" font-family="'Liberation Sans', sans-serif">20,</text>
<text x="377.4" y="24.5" font-size="15.4" fill="#e0e0e0" stroke="#e0e0e0" stroke-width="0.3" font-weight="normal" text-anchor="start" textLength="29.8" lengthAdjust="spacingAndGlyphs" font-family="'Liberation Sans', sans-serif">2025</text>
<text x="414.7" y="24.5" font-size="15.4" fill="#e0e0e0" stroke="#e0e0e0" stroke-width="0.3" font-weight="normal" text-anchor="start" textLength="34.7" lengthAdjust="spacingAndGlyphs" font-family="'Liberation Sans', sans-serif">12:53</text>
<text x="454.9" y="24.5" font-size="15.4" fill="#e0e0e0" stroke="#e0e0e0" stroke-width="0.3" font-weight="normal" text-anchor="start" textLength="39.9" lengthAdjust="spacingAndGlyphs" font-family="'Liberation Sans', sans-serif">UTC-3</text>
<text x="23.5" y="58.8" font-size="15.2" fill="#b2b5be" stroke="#b2b5be" stroke-width="0.3" font-weight="normal" text-anchor="start" textLength="59.9" lengthAdjust="spacingAndGlyphs" font-family="'Liberation Sans', sans-serif">Dogecoin</text>
<text x="89.6" y="58.8" font-size="15.2" fill="#b2b5be" stroke="#b2b5be" stroke-width="0.3" font-weight="normal" text-anchor="start" textLength="4.5" lengthAdjust="spacingAndGlyphs" font-family="'Liberation Sans', sans-serif">/</text>
<text x="101.2" y="58.8" font-size="15.2" fill="#b2b5be" stroke="#b2b5be" stroke-width="0.3" font-weight="normal" text-anchor="start" textLength="59.4" lengthAdjust="spacingAndGlyphs" font-family="'Liberation Sans', sans-serif">TetherUS</text>
<text x="168.0" y="59.5" font-size="18.2" fill="#b2b5be" stroke="#b2b5be" stroke-width="0.3" font-weight="normal" text-anchor="middle" font-family="'Liberation Sans', sans-serif">·</text>
<text x="176.7" y="58.8" font-size="15.2" fill="#b2b5be" stroke="#b2b5be" stroke-width="0.3" font-weight="normal" text-anchor="start" textLength="15.2" lengthAdjust="spacingAndGlyphs" font-family="'Liberation Sans', sans-serif">1D</text>
<text x="199.6" y="59.5" font-size="18.2" fill="#b2b5be" stroke="#b2b5be" stroke-width="0.3" font-weight="normal" text-anchor="middle" font-family="'Liberation Sans', sans-serif">·</text>
<text x="207.3" y="58.8" font-size="15.2" fill="#b2b5be" stroke="#b2b5be" stroke-width="0.3" font-weight="normal" text-anchor="start" textLength="51.7" lengthAdjust="spacingAndGlyphs" font-family="'Liberation Sans', sans-serif">Binance</text>
<text x="269.1" y="58.8" font-size="15.2" fill="#b2b5be" stroke="#b2b5be" stroke-width="0.3" font-weight="normal" text-anchor="start" textLength="22.7" lengthAdjust="spacingAndGlyphs" font-family="'Liberation Sans', sans-serif">Abr</text>
<text x="353.3" y="58.8" font-size="15.2" fill="#b2b5be" stroke="#b2b5be" stroke-width="0.3" font-weight="normal" text-anchor="start" textLength="30.0" lengthAdjust="spacingAndGlyphs" font-family="'Liberation Sans', sans-serif">Máx.</text>
<text x="446.6" y="58.8" font-size="15.2" fill="#b2b5be" stroke="#b2b5be" stroke-width="0.3" font-weight="normal" text-anchor="start" textLength="27.4" lengthAdjust="spacingAndGlyphs" font-family="'Liberation Sans', sans-serif">Mín.</text>
<text x="537.9" y="58.8" font-size="15.2" fill="#b2b5be" stroke="#b2b5be" stroke-width="0.3" font-weight="normal" text-anchor="start" textLength="22.5" lengthAdjust="spacingAndGlyphs" font-family="'Liberation Sans', sans-serif">Fch</text>
<text x="292.9" y="58.8" font-size="14.6" fill="#0a9e86" stroke="#0a9e86" stroke-width="0.3" font-weight="normal" text-anchor="start" textLength="50.9" lengthAdjust="spacingAndGlyphs" font-family="'Liberation Sans', sans-serif">0,15459</text>
<text x="385.4" y="58.8" font-size="14.6" fill="#0a9e86" stroke="#0a9e86" stroke-width="0.3" font-weight="normal" text-anchor="start" textLength="51.7" lengthAdjust="spacingAndGlyphs" font-family="'Liberation Sans', sans-serif">0,15972</text>
<text x="475.6" y="58.8" font-size="14.6" fill="#0a9e86" stroke="#0a9e86" stroke-width="0.3" font-weight="normal" text-anchor="start" textLength="51.4" lengthAdjust="spacingAndGlyphs" font-family="'Liberation Sans', sans-serif">0,15375</text>
<text x="561.5" y="58.8" font-size="14.6" fill="#0a9e86" stroke="#0a9e86" stroke-width="0.3" font-weight="normal" text-anchor="start" textLength="50.7" lengthAdjust="spacingAndGlyphs" font-family="'Liberation Sans', sans-serif">0,15782</text>
<text x="623.1" y="58.8" font-size="14.6" fill="#0a9e86" stroke="#0a9e86" stroke-width="0.3" font-weight="normal" text-anchor="start" textLength="58.4" lengthAdjust="spacingAndGlyphs" font-family="'Liberation Sans', sans-serif">+0,00322</text>
<text x="688.6" y="58.8" font-size="14.6" fill="#0a9e86" stroke="#0a9e86" stroke-width="0.3" font-weight="normal" text-anchor="start" textLength="55.4" lengthAdjust="spacingAndGlyphs" font-family="'Liberation Sans', sans-serif">(+2,08%)</text>
<text x="23.5" y="79.5" font-size="15.2" fill="#b2b5be" stroke="#b2b5be" stroke-width="0.3" font-weight="normal" text-anchor="start" textLength="18.9" lengthAdjust="spacingAndGlyphs" font-family="'Liberation Sans', sans-serif">Vol</text>
<text x="50.5" y="80.2" font-size="18.2" fill="#b2b5be" stroke="#b2b5be" stroke-width="0.3" font-weight="normal" text-anchor="middle" font-family="'Liberation Sans', sans-serif">·</text>
<text x="58.2" y="79.5" font-size="15.2" fill="#b2b5be" stroke="#b2b5be" stroke-width="0.3" font-weight="normal" text-anchor="start" textLength="36.3" lengthAdjust="spacingAndGlyphs" font-family="'Liberation Sans', sans-serif">DOGE</text>
<text x="105.3" y="79.5" font-size="14.6" fill="#0a9e86" stroke="#0a9e86" stroke-width="0.3" font-weight="normal" text-anchor="start" textLength="42.6" lengthAdjust="spacingAndGlyphs" font-family="'Liberation Sans', sans-serif">716,97</text>
<text x="152.5" y="79.5" font-size="14.6" fill="#0a9e86" stroke="#0a9e86" stroke-width="0.3" font-weight="normal" text-anchor="start" textLength="9.5" lengthAdjust="spacingAndGlyphs" font-family="'Liberation Sans', sans-serif">M</text>
<g transform="translate(15.5 816.1) scale(1.06 1.045)" fill="#d9d9d9">
<path d="M14 22H7V11H0V4h14v18z"/><circle cx="20" cy="8" r="3.6"/><path d="M28 22h-8l7.5-18h8L28 22z"/>
</g>
<text x="62.3" y="838.9" font-size="25.5" fill="#d9d9d9" stroke="#d9d9d9" stroke-width="0.3" font-weight="bold" text-anchor="start" textLength="150.7" lengthAdjust="spacingAndGlyphs" font-family="'Liberation Sans', sans-serif">TradingView</text>
</svg>
</body></html>
